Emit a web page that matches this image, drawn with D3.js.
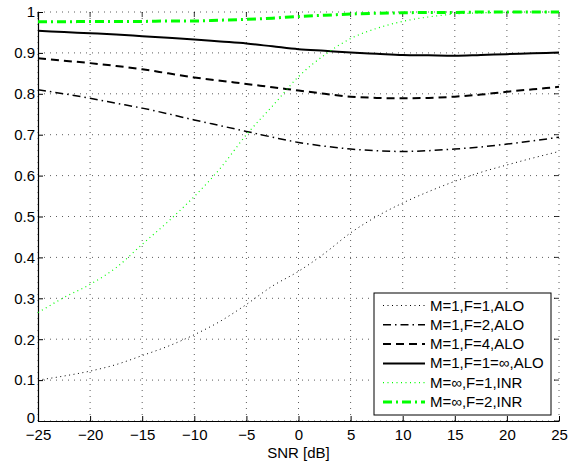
<!DOCTYPE html>
<html>
<head>
<meta charset="utf-8">
<script src="https://cdn.jsdelivr.net/npm/d3@7"></script>
<style>
  body { margin: 0; background: #fff; }
  text { font-family: "Liberation Sans", Arial, sans-serif; }
</style>
</head>
<body>
<div id="chart"></div>
<script>
// data
var snr = [-25, -22.5, -20, -17.5, -15, -12.5, -10, -7.5, -5, -2.5, 0,
           2.5, 5, 7.5, 10, 12.5, 15, 17.5, 20, 22.5, 25];

var m1f1 = [0.100, 0.110, 0.122, 0.138, 0.160, 0.183, 0.211, 0.244, 0.285, 0.330, 0.366,
            0.410, 0.460, 0.500, 0.533, 0.561, 0.586, 0.608, 0.626, 0.643, 0.659];
var m1f2 = [0.810, 0.800, 0.789, 0.777, 0.765, 0.751, 0.736, 0.722, 0.708, 0.694, 0.681,
            0.672, 0.665, 0.661, 0.659, 0.661, 0.665, 0.670, 0.677, 0.685, 0.694];
var m1f4 = [0.887, 0.881, 0.875, 0.868, 0.860, 0.850, 0.840, 0.832, 0.824, 0.816, 0.808,
            0.800, 0.793, 0.790, 0.789, 0.790, 0.793, 0.798, 0.805, 0.811, 0.817];
var m1finf = [0.954, 0.951, 0.948, 0.945, 0.941, 0.937, 0.933, 0.928, 0.923, 0.916, 0.909,
              0.905, 0.901, 0.898, 0.895, 0.894, 0.893, 0.895, 0.897, 0.899, 0.901];
var minff1 = [0.265, 0.302, 0.334, 0.375, 0.432, 0.488, 0.549, 0.618, 0.700, 0.770, 0.842,
              0.895, 0.935, 0.960, 0.977, 0.988, 0.995, 0.998, 0.999, 1.000, 1.000];
var minff2 = [0.976, 0.976, 0.977, 0.977, 0.977, 0.978, 0.978, 0.980, 0.982, 0.985, 0.989,
              0.992, 0.995, 0.997, 0.998, 0.999, 0.999, 1.000, 1.000, 1.000, 1.000];

var xTicks = [-25, -20, -15, -10, -5, 0, 5, 10, 15, 20, 25];
var yTicks = [0, 0.1, 0.2, 0.3, 0.4, 0.5, 0.6, 0.7, 0.8, 0.9, 1];

var series = [
  {name: "M=1,F=1,ALO",   vals: m1f1,   color: "#000", width: 1,   dash: "1,3.5"},
  {name: "M=1,F=2,ALO",   vals: m1f2,   color: "#000", width: 1.5, dash: "8,4,1.5,4"},
  {name: "M=1,F=4,ALO",   vals: m1f4,   color: "#000", width: 2,   dash: "8,5"},
  {name: "M=1,F=1=\u221e,ALO", vals: m1finf, color: "#000", width: 2, dash: null},
  {name: "M=\u221e,F=1,INR", vals: minff1, color: "#00ff00", width: 1.2, dash: "1,3.5"},
  {name: "M=\u221e,F=2,INR", vals: minff2, color: "#00ff00", width: 3, dash: "9,4,2,4"}
];

var W = 573, H = 461;
var margin = {left: 38, right: 14, top: 12, bottom: 40};
var width = W - margin.left - margin.right,
    height = H - margin.top - margin.bottom;

var svg = d3.select("#chart").append("svg")
    .attr("width", W).attr("height", H);
var g = svg.append("g")
    .attr("transform", "translate(" + margin.left + "," + margin.top + ")");

var x = d3.scaleLinear().domain([-25, 25]).range([0, width]);
var y = d3.scaleLinear().domain([0, 1]).range([height, 0]);

// grid
g.selectAll(".vgrid").data(xTicks).enter().append("line")
    .attr("x1", function(d) { return x(d); }).attr("x2", function(d) { return x(d); })
    .attr("y1", 0).attr("y2", height)
    .attr("stroke", "#333").attr("stroke-width", 0.8).attr("stroke-dasharray", "1,5");
g.selectAll(".hgrid").data(yTicks).enter().append("line")
    .attr("y1", function(d) { return y(d); }).attr("y2", function(d) { return y(d); })
    .attr("x1", 0).attr("x2", width)
    .attr("stroke", "#333").attr("stroke-width", 0.8).attr("stroke-dasharray", "1,5");

// axes
var xAxis = d3.axisBottom(x).tickValues(xTicks).tickSizeInner(-5).tickSizeOuter(0)
    .tickPadding(8).tickFormat(function(d) { return d < 0 ? "\u2212" + (-d) : d; });
var yAxis = d3.axisLeft(y).tickValues(yTicks).tickSizeInner(-5).tickSizeOuter(0)
    .tickPadding(3).tickFormat(function(d) { return d; });

var gx = g.append("g").attr("transform", "translate(0," + height + ")").call(xAxis);
var gy = g.append("g").call(yAxis);
[gx, gy].forEach(function(a) {
  a.selectAll("text").style("font-size", "15px").attr("fill", "#000");
  a.select(".domain").attr("stroke", "#000").attr("stroke-width", 1.2);
  a.selectAll(".tick line").attr("stroke", "#000");
});
// lift the bottom "0" a touch so it clears the -25 below it
gy.selectAll(".tick text").filter(function(d) { return d === 0; }).attr("dy", "0.1em");

// right/top ticks
g.selectAll(".rtick").data(yTicks).enter().append("line")
    .attr("x1", width).attr("x2", width - 5)
    .attr("y1", function(d) { return y(d); }).attr("y2", function(d) { return y(d); })
    .attr("stroke", "#000").attr("stroke-width", 0.8);
g.selectAll(".ttick").data(xTicks).enter().append("line")
    .attr("y1", 0).attr("y2", 5)
    .attr("x1", function(d) { return x(d); }).attr("x2", function(d) { return x(d); })
    .attr("stroke", "#000").attr("stroke-width", 0.8);

g.append("text")
    .attr("x", width / 2).attr("y", height + 36.5)
    .attr("text-anchor", "middle").style("font-size", "15px")
    .text("SNR [dB]");

// curves
var line = d3.line()
    .x(function(d, i) { return x(snr[i]); })
    .y(function(d) { return y(d); })
    .curve(d3.curveMonotoneX);

series.forEach(function(s) {
  g.append("path")
    .attr("d", line(s.vals))
    .attr("fill", "none")
    .attr("stroke", s.color)
    .attr("stroke-width", s.width)
    .attr("stroke-dasharray", s.dash);
});

// legend
var lg = svg.append("g").attr("transform", "translate(374,293)");
lg.append("rect").attr("width", 177).attr("height", 122)
    .attr("fill", "#fff").attr("stroke", "#000").attr("stroke-width", 1);
series.forEach(function(s, i) {
  var yy = 12.5 + i * 19.3;
  lg.append("line")
    .attr("x1", 9).attr("x2", 51).attr("y1", yy).attr("y2", yy)
    .attr("stroke", s.color).attr("stroke-width", s.width)
    .attr("stroke-dasharray", s.dash);
  lg.append("text")
    .attr("x", 56).attr("y", yy + 5)
    .style("font-size", "15px")
    .text(s.name);
});
</script>
</body>
</html>
